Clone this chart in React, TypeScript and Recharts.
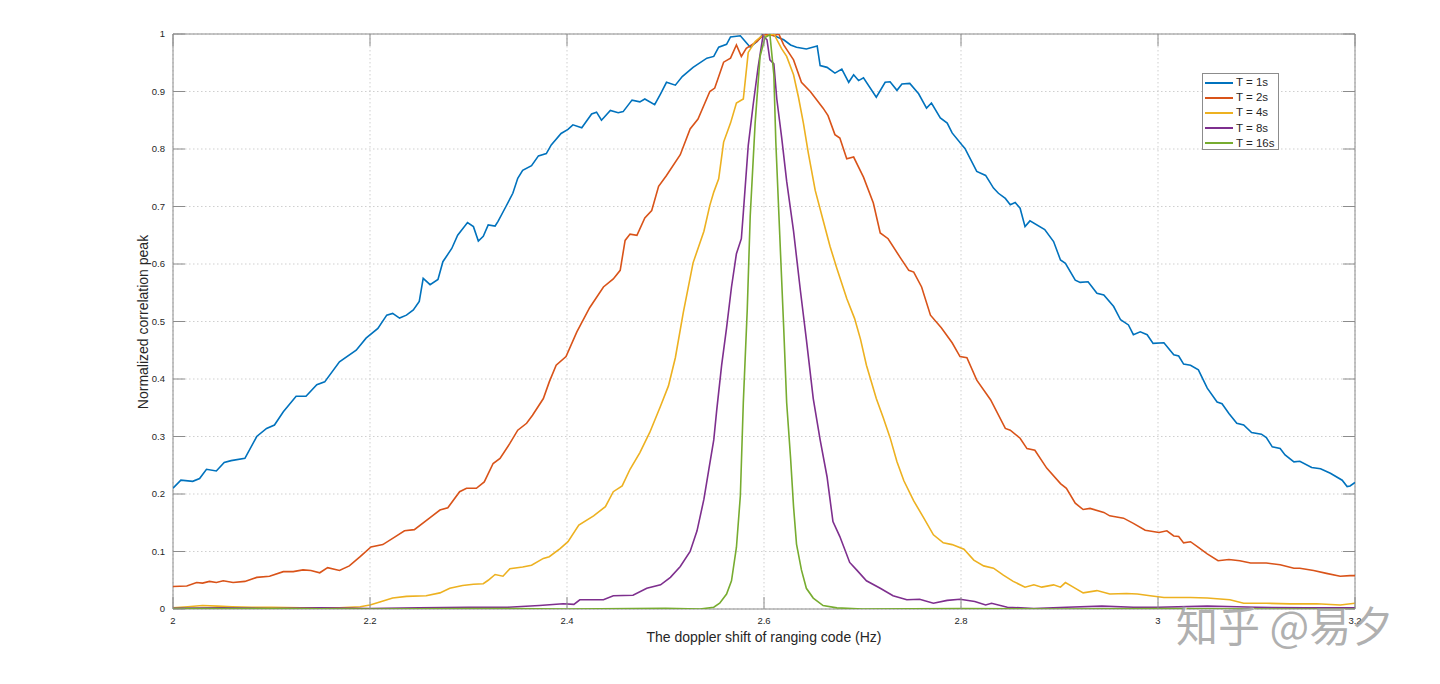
import React from 'react';
import { LineChart, Line, XAxis, YAxis, CartesianGrid, ReferenceArea } from 'recharts';

const X_TICKS = [2, 2.2, 2.4, 2.6, 2.8, 3, 3.2];
const Y_TICKS = [0, 0.1, 0.2, 0.3, 0.4, 0.5, 0.6, 0.7, 0.8, 0.9, 1];
const SERIES_NAMES = ['T = 1s', 'T = 2s', 'T = 4s', 'T = 8s', 'T = 16s'];
const SERIES_COLORS = ['#0072BD', '#D95319', '#EDB120', '#7E2F8E', '#77AC30'];
const X_LABEL = 'The doppler shift of ranging code (Hz)';
const Y_LABEL = 'Normalized correlation peak';
const WATERMARK = '知乎 @易夕';

const T1: [number, number][] = [
  [2.000,0.210],[2.008,0.224],[2.020,0.222],[2.027,0.227],[2.034,0.243],[2.044,0.240],[2.052,0.255],[2.059,0.258],
  [2.073,0.262],[2.085,0.300],[2.095,0.314],[2.103,0.320],[2.112,0.343],[2.125,0.370],[2.135,0.370],[2.146,0.390],
  [2.154,0.395],[2.169,0.430],[2.186,0.450],[2.196,0.471],[2.208,0.488],[2.217,0.511],[2.223,0.514],[2.230,0.506],
  [2.237,0.511],[2.244,0.520],[2.250,0.535],[2.254,0.575],[2.261,0.564],[2.269,0.573],[2.274,0.604],[2.283,0.627],
  [2.289,0.650],[2.299,0.672],[2.305,0.665],[2.310,0.640],[2.315,0.648],[2.320,0.668],[2.327,0.666],[2.330,0.674],
  [2.338,0.700],[2.345,0.723],[2.350,0.749],[2.355,0.763],[2.364,0.771],[2.371,0.788],[2.379,0.792],[2.384,0.807],
  [2.394,0.827],[2.401,0.834],[2.406,0.842],[2.415,0.837],[2.425,0.861],[2.430,0.864],[2.435,0.850],[2.444,0.867],
  [2.452,0.863],[2.457,0.865],[2.466,0.885],[2.474,0.882],[2.479,0.887],[2.489,0.877],[2.495,0.896],[2.501,0.916],
  [2.510,0.911],[2.517,0.926],[2.528,0.942],[2.542,0.958],[2.549,0.961],[2.554,0.977],[2.562,0.982],[2.566,0.995],
  [2.576,0.997],[2.581,0.987],[2.586,0.977],[2.593,0.987],[2.599,1.000],[2.606,1.000],[2.620,0.990],[2.627,0.981],
  [2.633,0.977],[2.643,0.974],[2.654,0.979],[2.657,0.945],[2.664,0.942],[2.672,0.932],[2.679,0.939],[2.686,0.916],
  [2.691,0.929],[2.696,0.919],[2.701,0.924],[2.714,0.890],[2.723,0.916],[2.728,0.917],[2.735,0.902],[2.740,0.913],
  [2.748,0.914],[2.757,0.896],[2.765,0.871],[2.770,0.880],[2.779,0.854],[2.786,0.845],[2.791,0.828],[2.801,0.807],
  [2.804,0.801],[2.816,0.761],[2.825,0.754],[2.833,0.732],[2.838,0.723],[2.845,0.714],[2.850,0.703],[2.855,0.707],
  [2.860,0.697],[2.865,0.665],[2.870,0.675],[2.885,0.660],[2.894,0.639],[2.901,0.607],[2.906,0.601],[2.916,0.572],
  [2.921,0.568],[2.929,0.569],[2.938,0.549],[2.945,0.546],[2.955,0.526],[2.962,0.503],[2.970,0.494],[2.975,0.477],
  [2.982,0.482],[2.989,0.477],[2.995,0.462],[3.006,0.463],[3.016,0.442],[3.021,0.440],[3.026,0.426],[3.033,0.424],
  [3.041,0.416],[3.050,0.384],[3.060,0.360],[3.065,0.357],[3.072,0.340],[3.080,0.323],[3.087,0.320],[3.095,0.307],
  [3.105,0.304],[3.110,0.298],[3.116,0.282],[3.124,0.279],[3.129,0.268],[3.138,0.256],[3.144,0.257],[3.156,0.246],
  [3.165,0.244],[3.175,0.236],[3.187,0.224],[3.192,0.213],[3.195,0.214],[3.200,0.220],
];

const T2: [number, number][] = [
  [2.000,0.039],[2.014,0.040],[2.024,0.046],[2.030,0.045],[2.037,0.048],[2.044,0.046],[2.051,0.049],[2.061,0.046],
  [2.073,0.048],[2.085,0.055],[2.098,0.057],[2.112,0.065],[2.122,0.065],[2.132,0.068],[2.140,0.067],[2.149,0.063],
  [2.157,0.072],[2.169,0.067],[2.179,0.075],[2.190,0.091],[2.201,0.108],[2.213,0.112],[2.225,0.125],[2.235,0.136],
  [2.245,0.138],[2.261,0.159],[2.271,0.172],[2.279,0.176],[2.291,0.204],[2.298,0.210],[2.308,0.210],[2.316,0.221],
  [2.325,0.253],[2.332,0.262],[2.342,0.288],[2.350,0.311],[2.359,0.323],[2.365,0.337],[2.376,0.366],[2.382,0.395],
  [2.389,0.424],[2.399,0.439],[2.410,0.482],[2.423,0.524],[2.437,0.560],[2.447,0.574],[2.454,0.589],[2.459,0.641],
  [2.464,0.652],[2.471,0.650],[2.479,0.680],[2.486,0.693],[2.493,0.735],[2.501,0.754],[2.515,0.790],[2.525,0.835],
  [2.533,0.852],[2.545,0.900],[2.550,0.906],[2.559,0.951],[2.566,0.958],[2.572,0.981],[2.577,0.961],[2.582,0.975],
  [2.593,0.987],[2.600,1.000],[2.610,0.997],[2.615,1.000],[2.620,0.981],[2.630,0.955],[2.638,0.916],[2.647,0.900],
  [2.660,0.871],[2.665,0.858],[2.672,0.825],[2.677,0.819],[2.684,0.783],[2.691,0.786],[2.701,0.751],[2.711,0.706],
  [2.718,0.654],[2.726,0.644],[2.738,0.612],[2.747,0.589],[2.752,0.586],[2.760,0.560],[2.769,0.511],[2.780,0.489],
  [2.791,0.463],[2.799,0.439],[2.806,0.437],[2.816,0.398],[2.830,0.364],[2.845,0.314],[2.850,0.311],[2.860,0.297],
  [2.867,0.279],[2.875,0.276],[2.887,0.245],[2.901,0.218],[2.907,0.210],[2.916,0.184],[2.924,0.173],[2.931,0.175],
  [2.945,0.168],[2.951,0.162],[2.958,0.160],[2.965,0.158],[2.975,0.149],[2.987,0.137],[3.001,0.133],[3.009,0.136],
  [3.016,0.127],[3.021,0.126],[3.026,0.115],[3.033,0.117],[3.041,0.107],[3.050,0.096],[3.061,0.084],[3.072,0.086],
  [3.083,0.084],[3.094,0.080],[3.110,0.080],[3.124,0.077],[3.138,0.071],[3.144,0.071],[3.158,0.067],[3.171,0.062],
  [3.185,0.057],[3.195,0.058],[3.200,0.058],
];

const T4: [number, number][] = [
  [2.000,0.002],[2.015,0.004],[2.030,0.006],[2.045,0.005],[2.060,0.004],[2.080,0.003],[2.100,0.003],[2.130,0.002],
  [2.169,0.002],[2.190,0.004],[2.200,0.007],[2.210,0.012],[2.223,0.019],[2.237,0.022],[2.257,0.023],[2.271,0.028],
  [2.281,0.036],[2.294,0.041],[2.305,0.043],[2.315,0.044],[2.320,0.050],[2.327,0.060],[2.335,0.057],[2.342,0.070],
  [2.355,0.073],[2.364,0.076],[2.376,0.088],[2.382,0.091],[2.393,0.105],[2.401,0.117],[2.412,0.146],[2.427,0.162],
  [2.439,0.178],[2.447,0.204],[2.456,0.214],[2.464,0.243],[2.474,0.272],[2.484,0.307],[2.495,0.353],[2.503,0.388],
  [2.510,0.437],[2.518,0.515],[2.528,0.602],[2.539,0.657],[2.545,0.702],[2.549,0.725],[2.554,0.748],[2.559,0.812],
  [2.566,0.845],[2.572,0.880],[2.579,0.887],[2.584,0.968],[2.591,0.987],[2.598,0.997],[2.603,0.997],[2.610,1.000],
  [2.618,0.974],[2.623,0.961],[2.630,0.929],[2.635,0.890],[2.640,0.845],[2.645,0.793],[2.652,0.728],[2.660,0.676],
  [2.667,0.631],[2.674,0.592],[2.684,0.540],[2.692,0.505],[2.698,0.469],[2.704,0.424],[2.714,0.366],[2.721,0.333],
  [2.728,0.298],[2.735,0.256],[2.742,0.223],[2.752,0.188],[2.762,0.159],[2.772,0.129],[2.782,0.115],[2.791,0.112],
  [2.803,0.104],[2.813,0.085],[2.823,0.075],[2.833,0.071],[2.843,0.059],[2.853,0.048],[2.865,0.038],[2.874,0.042],
  [2.882,0.038],[2.894,0.042],[2.901,0.038],[2.906,0.046],[2.914,0.038],[2.924,0.028],[2.938,0.032],[2.951,0.026],
  [2.968,0.027],[2.979,0.026],[2.992,0.023],[3.006,0.020],[3.033,0.020],[3.050,0.019],[3.073,0.016],[3.087,0.010],
  [3.110,0.010],[3.134,0.009],[3.161,0.009],[3.185,0.007],[3.200,0.010],
];

const T8: [number, number][] = [
  [2.000,0.001],[2.050,0.002],[2.100,0.001],[2.150,0.002],[2.200,0.001],[2.250,0.002],[2.300,0.003],[2.340,0.003],
  [2.372,0.006],[2.396,0.009],[2.407,0.008],[2.413,0.016],[2.437,0.016],[2.447,0.023],[2.467,0.024],[2.481,0.036],
  [2.495,0.042],[2.505,0.055],[2.515,0.074],[2.525,0.100],[2.532,0.136],[2.539,0.191],[2.544,0.243],[2.549,0.294],
  [2.552,0.346],[2.557,0.424],[2.562,0.489],[2.567,0.560],[2.572,0.618],[2.577,0.644],[2.579,0.689],[2.584,0.806],
  [2.589,0.877],[2.594,0.942],[2.599,0.997],[2.603,0.990],[2.606,0.955],[2.610,0.948],[2.613,0.887],[2.618,0.819],
  [2.623,0.744],[2.630,0.657],[2.637,0.553],[2.643,0.469],[2.650,0.366],[2.657,0.294],[2.664,0.230],[2.670,0.152],
  [2.677,0.126],[2.687,0.081],[2.694,0.068],[2.704,0.049],[2.718,0.036],[2.731,0.023],[2.745,0.016],[2.758,0.017],
  [2.772,0.010],[2.786,0.015],[2.799,0.017],[2.814,0.013],[2.825,0.007],[2.831,0.010],[2.847,0.003],[2.874,0.001],
  [2.907,0.003],[2.943,0.005],[2.975,0.003],[3.000,0.003],[3.050,0.005],[3.080,0.004],[3.100,0.003],[3.150,0.002],
  [3.200,0.002],
];

const T16: [number, number][] = [
  [2.000,0.001],[2.100,0.001],[2.200,0.000],[2.300,0.001],[2.400,0.000],[2.500,0.001],[2.535,0.000],[2.549,0.003],
  [2.555,0.010],[2.562,0.026],[2.567,0.049],[2.572,0.107],[2.576,0.197],[2.579,0.359],[2.583,0.521],[2.586,0.683],
  [2.591,0.845],[2.596,0.961],[2.601,0.994],[2.606,0.999],[2.610,0.929],[2.612,0.812],[2.616,0.650],[2.620,0.489],
  [2.623,0.359],[2.627,0.262],[2.630,0.178],[2.633,0.113],[2.638,0.068],[2.643,0.036],[2.650,0.019],[2.660,0.006],
  [2.674,0.002],[2.700,0.000],[2.800,0.001],[2.900,0.000],[3.000,0.001],[3.100,0.000],[3.200,0.000],
];

const SERIES = [T1, T2, T4, T8, T16];

const W = 1424;
const H = 668;
const MARGIN = { top: 26, right: 77, bottom: 37, left: 105 };
const Y_AXIS_W = 60;
const X_AXIS_H = 30;
const PLOT_LEFT = MARGIN.left + Y_AXIS_W;
const PLOT_RIGHT = W - MARGIN.right;
const PLOT_TOP = MARGIN.top;
const PLOT_BOTTOM = H - MARGIN.bottom - X_AXIS_H;
const TICK_LEN = 12;
const AXIS_COLOR = '#8c8c8c';
const TEXT_COLOR = '#262626';
const FONT = '"Liberation Sans", Arial, Helvetica, sans-serif';

const fmt = (v: number) => String(Number(v.toFixed(1)));

const XTick = (props: any) => {
  const { x, payload } = props;
  return (
    <g>
      <line x1={x} x2={x} y1={PLOT_BOTTOM} y2={PLOT_BOTTOM - TICK_LEN} stroke={AXIS_COLOR} strokeWidth={1} />
      <line x1={x} x2={x} y1={PLOT_TOP} y2={PLOT_TOP + TICK_LEN} stroke={AXIS_COLOR} strokeWidth={1} />
      <text x={x} y={PLOT_BOTTOM + 15} textAnchor="middle" fontSize={9.5} fill={TEXT_COLOR} fontFamily={FONT}>
        {fmt(payload.value)}
      </text>
    </g>
  );
};

const YTick = (props: any) => {
  const { y, payload } = props;
  return (
    <g>
      <line x1={PLOT_LEFT} x2={PLOT_LEFT + TICK_LEN} y1={y} y2={y} stroke={AXIS_COLOR} strokeWidth={1} />
      <line x1={PLOT_RIGHT} x2={PLOT_RIGHT - TICK_LEN} y1={y} y2={y} stroke={AXIS_COLOR} strokeWidth={1} />
      <text x={PLOT_LEFT - 8} y={y} dy="0.35em" textAnchor="end" fontSize={9.5} fill={TEXT_COLOR} fontFamily={FONT}>
        {fmt(payload.value)}
      </text>
    </g>
  );
};

const LegendBox = () => (
  <div
    style={{
      position: 'absolute',
      left: 1194,
      top: 65,
      width: 77,
      height: 77,
      border: `1px solid ${AXIS_COLOR}`,
      background: '#fff',
      boxSizing: 'border-box',
      paddingTop: 1,
      fontFamily: FONT,
      fontSize: 11.5,
      color: TEXT_COLOR,
    }}
  >
    {SERIES_NAMES.map((n, i) => (
      <div key={n} style={{ display: 'flex', alignItems: 'center', height: 15.2, lineHeight: '15px' }}>
        <div style={{ width: 28, height: 2, background: SERIES_COLORS[i], marginLeft: 2, marginRight: 3 }} />
        <span style={{ whiteSpace: 'nowrap' }}>{n}</span>
      </div>
    ))}
  </div>
);

export default function App() {
  return (
    <div style={{ position: 'relative', width: W, height: H, fontFamily: FONT, background: '#fff' }}>
      <LineChart width={W} height={H} margin={MARGIN}>
        <CartesianGrid stroke="#cfcfcf" strokeDasharray="1.5 2.5" strokeWidth={1} />
        <XAxis
          type="number"
          dataKey="x"
          domain={[2, 3.2]}
          ticks={X_TICKS}
          allowDataOverflow
          height={X_AXIS_H}
          axisLine={false}
          tickLine={false}
          tick={XTick}
          interval={0}
        />
        <YAxis
          type="number"
          domain={[0, 1]}
          ticks={Y_TICKS}
          allowDataOverflow
          width={Y_AXIS_W}
          axisLine={false}
          tickLine={false}
          tick={YTick}
          interval={0}
        />
        <ReferenceArea x1={2} x2={3.2} y1={0} y2={1} fill="none" stroke={AXIS_COLOR} strokeWidth={1} ifOverflow="visible" />
        {SERIES.map((s, i) => (
          <Line
            key={SERIES_NAMES[i]}
            name={SERIES_NAMES[i]}
            data={s.map(([x, y]) => ({ x, y }))}
            dataKey="y"
            type="linear"
            stroke={SERIES_COLORS[i]}
            strokeWidth={1.6}
            dot={false}
            activeDot={false}
            isAnimationActive={false}
          />
        ))}
      </LineChart>
      <LegendBox />
      <div
        style={{
          position: 'absolute',
          left: (PLOT_LEFT + PLOT_RIGHT) / 2,
          top: 629,
          transform: 'translate(-50%, -50%)',
          fontSize: 14,
          color: TEXT_COLOR,
          whiteSpace: 'nowrap',
        }}
      >
        {X_LABEL}
      </div>
      <div
        style={{
          position: 'absolute',
          left: 135,
          top: (PLOT_TOP + PLOT_BOTTOM) / 2,
          transform: 'translate(-50%, -50%) rotate(-90deg)',
          fontSize: 14,
          color: TEXT_COLOR,
          whiteSpace: 'nowrap',
        }}
      >
        {Y_LABEL}
      </div>
      <div
        style={{
          position: 'absolute',
          left: 1168,
          top: 593,
          fontSize: 42,
          lineHeight: '46px',
          fontFamily: '"Noto Sans CJK SC", sans-serif',
          color: 'rgba(150,150,150,0.75)',
          whiteSpace: 'pre',
          textShadow: '1px 1px 0 rgba(255,255,255,0.8)',
        }}
      >
        {WATERMARK}
      </div>
    </div>
  );
}
